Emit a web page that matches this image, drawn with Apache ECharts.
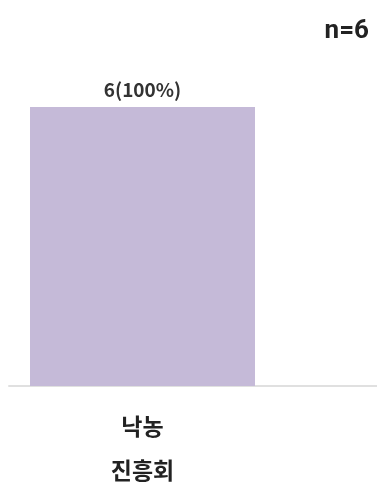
<!DOCTYPE html>
<html><head><meta charset="utf-8">
<script src="https://cdn.jsdelivr.net/npm/echarts@6/dist/echarts.min.js"></script>
<style>html,body{margin:0;padding:0;background:#fff}#c{width:377px;height:484px}</style>
</head><body><div id="c"></div>
<script>
var categories = ['낙농\n진흥회'];
var counts = [6];
var percents = [100];
var total = 6;

var chart = echarts.init(document.getElementById('c'));
chart.setOption({
  animation: false,
  title: {
    text: 'n=' + total, right: 3, top: 13,
    textStyle: { fontFamily: 'Liberation Sans Narrow, Roboto, sans-serif', fontSize: 26, fontWeight: 'bold', color: '#222' }
  },
  grid: [
    { left: 10, right: 102, top: 107, bottom: 98, outerBoundsMode: 'none', containLabel: false },
    { left: 9, right: 0, top: 107, bottom: 98, outerBoundsMode: 'none', containLabel: false }
  ],
  xAxis: [
    { type: 'category', gridIndex: 0, data: categories,
      axisLine: { show: false }, axisTick: { show: false },
      axisLabel: { margin: 18, fontFamily: 'Noto Sans CJK KR', fontSize: 23, fontWeight: 'bold', color: '#222', lineHeight: 44 } },
    { type: 'category', gridIndex: 1, data: [''],
      axisLine: { show: true, lineStyle: { color: '#e0e0e0', width: 2 } }, axisTick: { show: false }, axisLabel: { show: false } }
  ],
  yAxis: [
    { type: 'value', gridIndex: 0, min: 0, max: 6, show: false },
    { type: 'value', gridIndex: 1, min: 0, max: 6, show: false }
  ],
  series: [{
    type: 'bar', xAxisIndex: 0, yAxisIndex: 0,
    data: counts, barWidth: 225,
    itemStyle: { color: '#c5bad8' },
    label: {
      show: true, position: 'top', distance: 8,
      formatter: function (p) { return p.value + '(' + percents[p.dataIndex] + '%)'; },
      fontFamily: 'Noto Sans CJK KR', fontSize: 19, fontWeight: 'bold', color: '#333'
    }
  }]
});
</script></body></html>
